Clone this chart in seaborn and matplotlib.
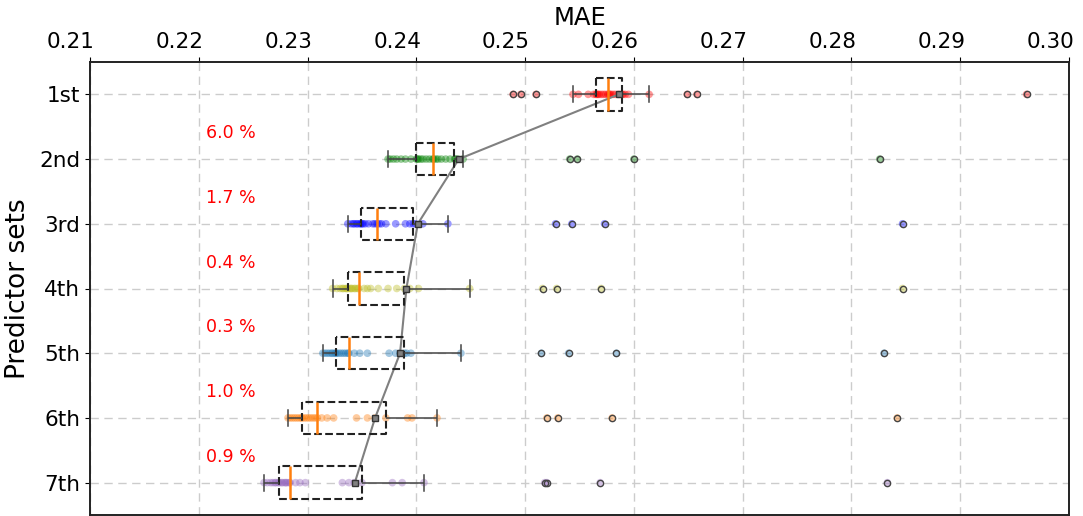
import numpy as np
import pandas as pd
import matplotlib
matplotlib.use("Agg")
import matplotlib.pyplot as plt
import matplotlib.transforms as mtransforms
import seaborn as sns

# ---------------- data ----------------
set_names = ["1st", "2nd", "3rd", "4th", "5th", "6th", "7th"]
set_colors = ["red", "green", "blue", "#bcbd22", "#1f77b4", "#ff7f0e", "#9467bd"]

mae_1st = [0.2489, 0.2496, 0.2510, 0.2544, 0.2549, 0.2558, 0.2563,
           0.2565,
           0.2566, 0.2567, 0.2568, 0.2570, 0.2572, 0.2574,
           0.2576,
           0.2577, 0.2578, 0.2579, 0.2581, 0.2583, 0.2586,
           0.2589,
           0.2590, 0.2592, 0.2595, 0.2614, 0.2649, 0.2658, 0.2961]
mae_2nd = [0.2374, 0.2376, 0.2379, 0.2382, 0.2386, 0.2390, 0.2395,
           0.2400,
           0.2401, 0.2402, 0.2404, 0.2406, 0.2409, 0.2412,
           0.2415,
           0.2416, 0.2418, 0.2420, 0.2423, 0.2427, 0.2431,
           0.2435,
           0.2436, 0.2438, 0.2443, 0.2541, 0.2548, 0.2600, 0.2826]
mae_3rd = [0.2337, 0.2340, 0.2342, 0.2343, 0.2345, 0.2346, 0.2348,
           0.2349,
           0.2350, 0.2351, 0.2353, 0.2356, 0.2360, 0.2362,
           0.2364,
           0.2366, 0.2368, 0.2372, 0.2381, 0.2390, 0.2394,
           0.2397,
           0.2399, 0.2406, 0.2429, 0.2528, 0.2543, 0.2573, 0.2847]
mae_4th = [0.2323, 0.2327, 0.2330, 0.2332, 0.2333, 0.2335, 0.2336,
           0.2337,
           0.2339, 0.2340, 0.2341, 0.2343, 0.2344, 0.2346,
           0.2347,
           0.2352, 0.2355, 0.2358, 0.2365, 0.2374, 0.2382,
           0.2389,
           0.2394, 0.2402, 0.2449, 0.2516, 0.2529, 0.2570, 0.2847]
mae_5th = [0.2314, 0.2316, 0.2318, 0.2320, 0.2322, 0.2323, 0.2325,
           0.2326,
           0.2327, 0.2329, 0.2331, 0.2333, 0.2335, 0.2337,
           0.2338,
           0.2343, 0.2348, 0.2355, 0.2375, 0.2381, 0.2385,
           0.2389,
           0.2391, 0.2395, 0.2441, 0.2515, 0.2540, 0.2584, 0.2830]
mae_6th = [0.2282, 0.2284, 0.2286, 0.2288, 0.2290, 0.2292, 0.2294,
           0.2295,
           0.2297, 0.2299, 0.2301, 0.2303, 0.2305, 0.2307,
           0.2309,
           0.2313, 0.2318, 0.2324, 0.2345, 0.2355, 0.2362,
           0.2372,
           0.2392, 0.2396, 0.2419, 0.2520, 0.2530, 0.2580, 0.2842]
mae_7th = [0.2260, 0.2263, 0.2266, 0.2268, 0.2270, 0.2271, 0.2273,
           0.2274,
           0.2276, 0.2277, 0.2279, 0.2280, 0.2281, 0.2283,
           0.2284,
           0.2289, 0.2293, 0.2298, 0.2332, 0.2338, 0.2343,
           0.2350,
           0.2378, 0.2387, 0.2407, 0.2518, 0.2520, 0.2569, 0.2833]

gain_labels = ["6.0 %", "1.7 %", "0.4 %", "0.3 %", "1.0 %", "0.9 %"]
x_ticks = [0.21, 0.22, 0.23, 0.24, 0.25, 0.26, 0.27, 0.28, 0.29, 0.30]
x_tick_labels = ["0.21", "0.22", "0.23", "0.24", "0.25", "0.26", "0.27", "0.28", "0.29", "0.30"]

all_series = [mae_1st, mae_2nd, mae_3rd, mae_4th, mae_5th, mae_6th, mae_7th]
df = pd.DataFrame({
    "set": np.repeat(set_names, [len(s) for s in all_series]),
    "MAE": np.concatenate(all_series),
})
palette = dict(zip(set_names, set_colors))

# ---------------- figure ----------------
plt.rcParams["font.family"] = ["DejaVu Sans"]
fig = plt.figure(figsize=(10.83, 5.16), dpi=100)
ax = fig.add_axes([90 / 1083, 1 / 516, (1069 - 90) / 1083, (515 - 62) / 516])

sns.stripplot(data=df, x="MAE", y="set", order=set_names, hue="set",
              palette=palette, jitter=False, size=5.5, alpha=0.4,
              linewidth=0, legend=False, ax=ax, zorder=1)

sns.pointplot(data=df, x="MAE", y="set", order=set_names, estimator="mean",
              errorbar=None, color="grey", markers="s", markersize=3,
              linewidth=1.5, ax=ax)

sns.boxplot(data=df, x="MAE", y="set", order=set_names, width=0.5,
            fill=False, color="black", whis=1.5, showmeans=True,
            boxprops=dict(linestyle="--", linewidth=1.5, color="#222222"),
            medianprops=dict(color="#ff7f0e", linewidth=1.8, linestyle="-"),
            whiskerprops=dict(color="#444444", linewidth=1.1, linestyle="-"),
            capprops=dict(color="#444444", linewidth=1.1),
            flierprops=dict(marker="o", markerfacecolor="none",
                            markeredgecolor="#444444", markersize=4.5,
                            markeredgewidth=1),
            meanprops=dict(marker="s", markerfacecolor="grey",
                           markeredgecolor="#333333", markersize=4.5),
            ax=ax)

for i, lbl in enumerate(gain_labels):
    ax.text(0.2207, i + 0.6, lbl, color="red", fontsize=12.5,
            ha="left", va="center")

ax.set_xlim(0.21, 0.30)
ax.set_ylim(6.5, -0.5)
ax.xaxis.tick_top()
ax.xaxis.set_label_position("top")
ax.set_xticks(x_ticks)
ax.set_xticklabels(x_tick_labels)
ax.set_xlabel("MAE", fontsize=17.5, labelpad=5)
ax.set_ylabel("Predictor sets", fontsize=19, labelpad=6)
ax.tick_params(labelsize=15.5)
ax.grid(True, color="#cccccc", linestyle=(0, (6, 4)), linewidth=1)
ax.set_axisbelow(True)
for sp in ax.spines.values():
    sp.set_linewidth(1.4)
    sp.set_color("#222222")

offset = mtransforms.ScaledTranslation(-19 / 100, 0, fig.dpi_scale_trans)
for lbl in ax.get_xticklabels():
    lbl.set_transform(lbl.get_transform() + offset)

fig.savefig("out.png", dpi=100)
